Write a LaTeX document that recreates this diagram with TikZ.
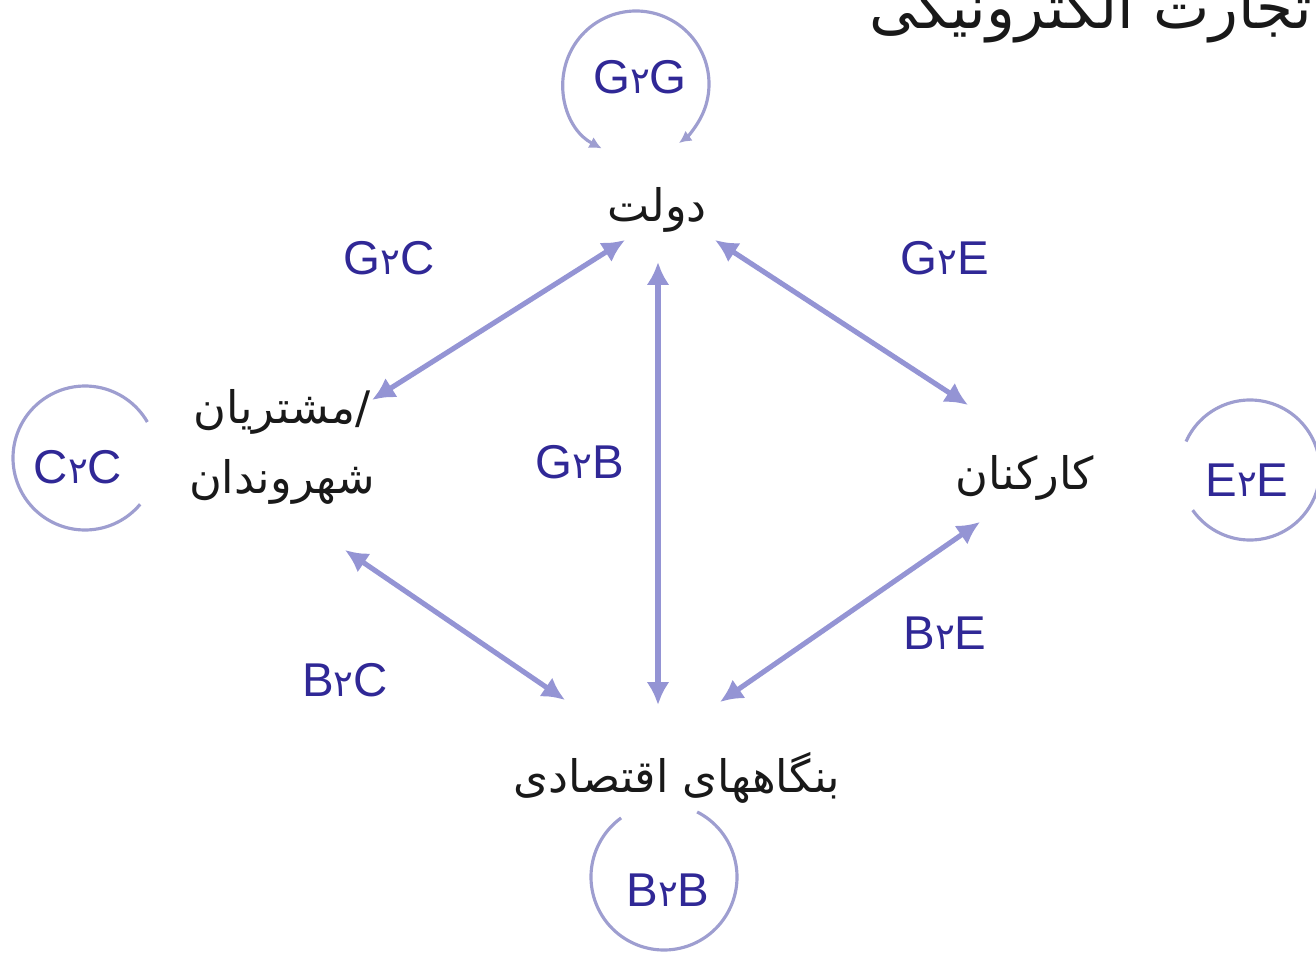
\documentclass[tikz,border=0pt]{standalone}
\usepackage{fontspec}
\setmainfont{Liberation Sans}
\newfontfamily\arabicfont[Script=Arabic]{DejaVu Sans}
\TeXXeTstate=1
\usetikzlibrary{arrows.meta,calc}
\definecolor{labc}{RGB}{48,40,150}
\definecolor{arrc}{RGB}{148,148,212}
\definecolor{loopc}{RGB}{158,158,208}
\definecolor{txtc}{RGB}{25,25,25}
\newcommand\ptwo{{\fontsize{21}{22}\selectfont\arabicfont ۲}}
\begin{document}
\begin{tikzpicture}[x=0.02cm,y=-0.02cm,
  fa/.style={font=\fontsize{25.5}{40}\selectfont\arabicfont, text=txtc, inner sep=0pt, align=center},
  lab/.style={font=\fontsize{27}{30}\selectfont, text=labc, inner sep=0pt},
  biarrow/.style={draw=arrc, line width=2.9pt, {Latex[length=13pt,width=13pt]}-{Latex[length=13pt,width=13pt]}},
  loopline/.style={draw=loopc, line width=1.8pt},
  looptip/.style={loopline, {Latex[length=7pt,width=7pt]}-{Latex[length=7pt,width=7pt]}}]
\useasboundingbox (0,0) rectangle (1316,956);
% title (cut at the top edge, as in the reference)
\node[fa, font=\fontsize{34}{40}\selectfont\arabicfont, anchor=east] (title) at (1312,13) {\beginR تجارت الکترونیکی\endR};
% main nodes
\node[fa] (gov) at (657,210) {\beginR دولت\endR};
\node[fa] (cust) at (282,447) {\beginR مشتریان\endR/\\\beginR شهروندان\endR};
\node[fa] (emp) at (1025,478) {\beginR کارکنان\endR};
\node[fa] (bus) at (677,778) {\beginR بنگاههای اقتصادی\endR};
% connector labels
\node[lab] (g2c) at (389,258) {G\ptwo C};
\node[lab] (g2e) at (945,258) {G\ptwo E};
\node[lab] (g2b) at (580,462) {G\ptwo B};
\node[lab] (b2c) at (345,680) {B\ptwo C};
\node[lab] (b2e) at (945,633) {B\ptwo E};
% loop labels
\node[lab] (g2g) at (640,77) {G\ptwo G};
\node[lab] (c2c) at (78,467) {C\ptwo C};
\node[lab] (e2e) at (1247,480) {E\ptwo E};
\node[lab] (b2b) at (668,890) {B\ptwo B};
% connectors
\draw[biarrow] ([shift={(-32,30)}]gov.center) -- ([shift={(90,-47)}]cust.center);
\draw[biarrow] ([shift={(1,52)}]gov.center) -- ([shift={(-19,-73)}]bus.center);
\draw[biarrow] ([shift={(58,30)}]gov.center) -- ([shift={(-57,-73)}]emp.center);
\draw[biarrow] ([shift={(63,103)}]cust.center) -- ([shift={(-112,-78)}]bus.center);
\draw[biarrow] ([shift={(-45,44)}]emp.center) -- ([shift={(43,-76)}]bus.center);
% loops
\draw[looptip] ($(g2g)+(-4,7)+(118:73)$) arc[start angle=118, end angle=414, radius=73];
\draw[loopline] ($(c2c)+(7,-9)+(40:72)$) arc[start angle=40, end angle=330, radius=72];
\draw[loopline] ($(e2e)+(3,-10)+(204:70)$) arc[start angle=204, end angle=505, radius=70];
\draw[loopline] ($(b2b)+(-4,-13)+(297:73)$) arc[start angle=297, end angle=594, radius=73];
\end{tikzpicture}
\end{document}
